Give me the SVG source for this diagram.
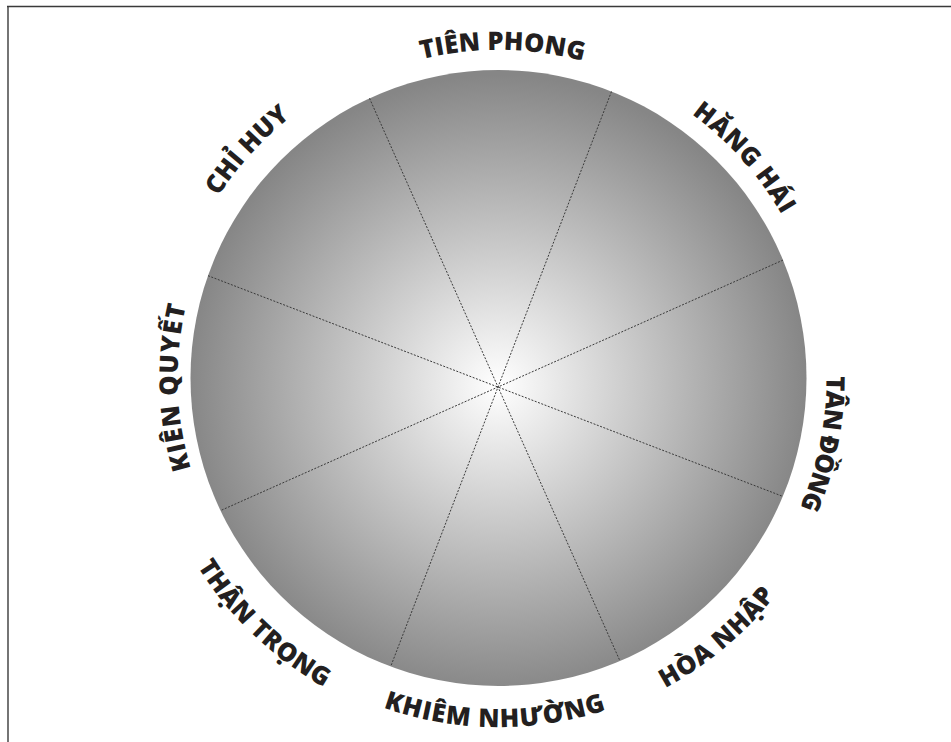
<svg xmlns="http://www.w3.org/2000/svg" xmlns:xlink="http://www.w3.org/1999/xlink" width="951" height="742" viewBox="0 0 951 742">
<style>
.lbl{font-family:"Open Sans","Noto Sans","DejaVu Sans",sans-serif;font-weight:800;font-size:25.5px;fill:#231f20;}
.spoke{stroke:#3a3a3a;stroke-width:1;stroke-dasharray:2 1.5;fill:none;}
.frame{fill:none;stroke:#3a3a3a;stroke-width:1.4;}
</style>
<defs>
<radialGradient id="g" gradientUnits="userSpaceOnUse" cx="498" cy="385" r="310">
<stop offset="0" stop-color="#ffffff"/>
<stop offset="1" stop-color="#868686"/>
</radialGradient>
<path id="p1" d="M176.2,317.1 A328,328 0 0 1 822.2,325.0"/>
<path id="p2" d="M325.7,100.4 A327,327 0 0 1 755.8,579.8"/>
<path id="p3" d="M234.6,582.7 A334,334 0 0 1 676.5,95.4"/>
<path id="p4" d="M452.1,695.6 A321,321 0 0 1 433.4,63.7"/>
<path id="p5" d="M618.4,72.7 A328,328 0 0 1 490.2,705.9"/>
<path id="p6" d="M273.6,647.0 A350,350 0 0 0 801.4,202.5"/>
<path id="p7" d="M154.1,434.7 A349,349 0 0 0 841.5,442.5"/>
<path id="p8" d="M203.1,181.1 A355,355 0 0 0 708.7,664.1"/>
</defs>
<rect width="951" height="742" fill="#ffffff"/>
<line class="frame" x1="7" y1="6.5" x2="951" y2="6.5"/>
<line class="frame" x1="8" y1="6" x2="8" y2="742"/>
<g id="wheel">
<circle cx="498.5" cy="378" r="308" fill="url(#g)"/>
</g>
<g id="connectors">
<line class="spoke" x1="208.0" y1="275.7" x2="782.8" y2="496.4"/>
<line class="spoke" x1="369.5" y1="98.3" x2="620.0" y2="661.0"/>
<line class="spoke" x1="611.5" y1="91.5" x2="390.7" y2="666.5"/>
<line class="spoke" x1="783.0" y1="260.1" x2="220.5" y2="510.6"/>
</g>
<g id="tien-phong"><text class="lbl"><textPath xlink:href="#p1" href="#p1" startOffset="50%" text-anchor="middle" textLength="163" lengthAdjust="spacing">TIÊN PHONG</textPath></text></g>
<g id="hang-hai"><text class="lbl"><textPath xlink:href="#p2" href="#p2" startOffset="50%" text-anchor="middle" textLength="136" lengthAdjust="spacing">HĂNG HÁI</textPath></text></g>
<g id="chi-huy"><text class="lbl"><textPath xlink:href="#p3" href="#p3" startOffset="50%" text-anchor="middle" textLength="108" lengthAdjust="spacing">CHỈ HUY</textPath></text></g>
<g id="kien-quyet"><text class="lbl"><textPath xlink:href="#p4" href="#p4" startOffset="50%" text-anchor="middle" textLength="165" lengthAdjust="spacing">KIÊN QUYẾT</textPath></text></g>
<g id="tan-dong"><text class="lbl"><textPath xlink:href="#p5" href="#p5" startOffset="50%" text-anchor="middle" textLength="135" lengthAdjust="spacing">TÂN ĐỒNG</textPath></text></g>
<g id="hoa-nhap"><text class="lbl"><textPath xlink:href="#p6" href="#p6" startOffset="50%" text-anchor="middle" textLength="145" lengthAdjust="spacing">HÒA NHẬP</textPath></text></g>
<g id="khiem-nhuong"><text class="lbl"><textPath xlink:href="#p7" href="#p7" startOffset="50%" text-anchor="middle" textLength="227" lengthAdjust="spacing">KHIÊM NHƯỜNG</textPath></text></g>
<g id="than-trong"><text class="lbl"><textPath xlink:href="#p8" href="#p8" startOffset="50%" text-anchor="middle" textLength="177" lengthAdjust="spacing">THẬN TRỌNG</textPath></text></g>
</svg>
